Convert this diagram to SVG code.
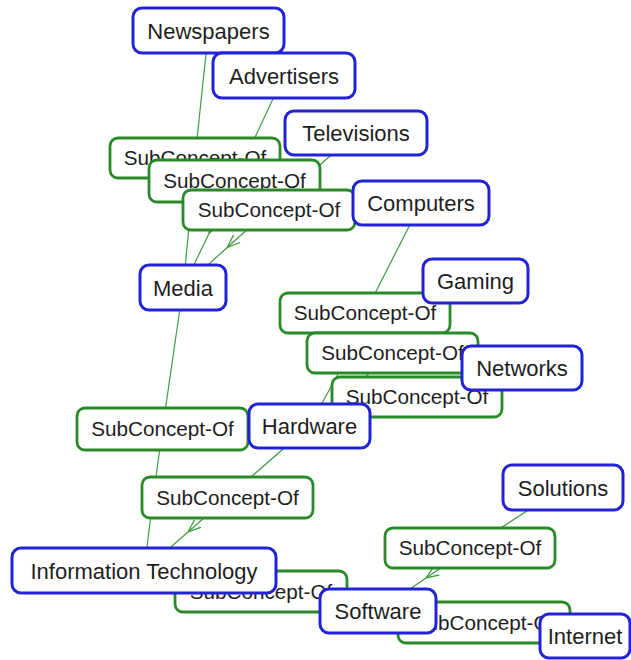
<svg xmlns="http://www.w3.org/2000/svg" width="631" height="660" viewBox="0 0 631 660">
<style>
.c{fill:none;stroke:#3f9c3f;stroke-width:1.2}
.g rect{fill:#fff;stroke:#2a8a2a;stroke-width:2.8}
.b rect{fill:#fff;stroke:#2323d6;stroke-width:3}
.g text{font-family:"Liberation Sans",Arial,sans-serif;font-size:20.7px;fill:#1e1e1e;text-anchor:middle}
.b text{font-family:"Liberation Sans",Arial,sans-serif;font-size:22px;fill:#1e1e1e;text-anchor:middle}
</style>
<defs>
<marker id="arr" viewBox="0 0 13 12" refX="13" refY="6" markerWidth="13" markerHeight="12" orient="auto" markerUnits="userSpaceOnUse">
<path d="M0,1 L13,6 L0,11" fill="none" stroke="#3f9c3f" stroke-width="1.3"/>
</marker>
</defs>
<rect width="631" height="660" fill="#fff"/>
<g id="connectors">
<polyline class="c" points="208.5,30.5 195,158"/>
<polyline class="c" points="284,75.5 234.5,181"/>
<polyline class="c" points="356,133 269,210"/>
<polyline class="c" points="195,158 189.6,221.5 183,287.5" marker-mid="url(#arr)"/>
<polyline class="c" points="234.5,181 209,233.5 183,287.5" marker-mid="url(#arr)"/>
<polyline class="c" points="269,210 227.2,247.5 183,287.5" marker-mid="url(#arr)"/>
<polyline class="c" points="421,203 365,313"/>
<polyline class="c" points="475.5,281 392.5,353"/>
<polyline class="c" points="522,368 417,397"/>
<polyline class="c" points="365,313 341,368.5 309.5,426" marker-mid="url(#arr)"/>
<polyline class="c" points="392.5,353 352,388.5 309.5,426" marker-mid="url(#arr)"/>
<polyline class="c" points="417,397 309.5,426"/>
<polyline class="c" points="183,287.5 162.5,429"/>
<polyline class="c" points="162.5,429 153,499 144,570.5" marker-mid="url(#arr)"/>
<polyline class="c" points="309.5,426 227.5,497.5"/>
<polyline class="c" points="227.5,497.5 188,532 144,570.5" marker-mid="url(#arr)"/>
<polyline class="c" points="378,611 261,591.5"/>
<polyline class="c" points="261,591.5 144,570.5"/>
<polyline class="c" points="563,487.5 470,548"/>
<polyline class="c" points="470,548 426,578 378,611" marker-mid="url(#arr)"/>
<polyline class="c" points="585,636 484,622.5"/>
<polyline class="c" points="484,622.5 378,611"/>
</g>
<g id="rel1" class="g"><rect x="110" y="138" width="170" height="40" rx="8"/><text x="195" y="165">SubConcept-Of</text></g>
<g id="rel2" class="g"><rect x="149" y="160" width="171" height="42" rx="8"/><text x="234.5" y="188">SubConcept-Of</text></g>
<g id="rel3" class="g"><rect x="183" y="190" width="172" height="40" rx="8"/><text x="269" y="217">SubConcept-Of</text></g>
<g id="rel4" class="g"><rect x="280" y="293" width="170" height="40" rx="8"/><text x="365" y="320">SubConcept-Of</text></g>
<g id="rel5" class="g"><rect x="307" y="333" width="171" height="40" rx="8"/><text x="392.5" y="360">SubConcept-Of</text></g>
<g id="rel6" class="g"><rect x="332" y="377" width="170" height="40" rx="8"/><text x="417" y="404">SubConcept-Of</text></g>
<g id="rel7" class="g"><rect x="77" y="408" width="171" height="42" rx="8"/><text x="162.5" y="436">SubConcept-Of</text></g>
<g id="rel8" class="g"><rect x="142" y="477" width="171" height="41" rx="8"/><text x="227.5" y="504.5">SubConcept-Of</text></g>
<g id="rel9" class="g"><rect x="175" y="571" width="172" height="41" rx="8"/><text x="261" y="598.5">SubConcept-Of</text></g>
<g id="rel10" class="g"><rect x="385" y="528" width="170" height="40" rx="8"/><text x="470" y="555">SubConcept-Of</text></g>
<g id="rel11" class="g"><rect x="398" y="602" width="172" height="41" rx="8"/><text x="484" y="629.5">SubConcept-Of</text></g>
<g id="newspapers" class="b"><rect x="133" y="8" width="151" height="45" rx="9"/><text x="208.5" y="38.5">Newspapers</text></g>
<g id="advertisers" class="b"><rect x="213" y="53" width="142" height="45" rx="9"/><text x="284" y="83.5">Advertisers</text></g>
<g id="televisions" class="b"><rect x="285" y="111" width="142" height="44" rx="9"/><text x="356" y="141">Televisions</text></g>
<g id="computers" class="b"><rect x="353" y="181" width="136" height="44" rx="9"/><text x="421" y="211">Computers</text></g>
<g id="media" class="b"><rect x="140" y="265" width="86" height="45" rx="9"/><text x="183" y="295.5">Media</text></g>
<g id="gaming" class="b"><rect x="423" y="259" width="105" height="44" rx="9"/><text x="475.5" y="289">Gaming</text></g>
<g id="networks" class="b"><rect x="462" y="346" width="120" height="44" rx="9"/><text x="522" y="376">Networks</text></g>
<g id="hardware" class="b"><rect x="249" y="404" width="121" height="44" rx="9"/><text x="309.5" y="434">Hardware</text></g>
<g id="it" class="b"><rect x="12" y="548" width="264" height="45" rx="9"/><text x="144" y="578.5">Information Technology</text></g>
<g id="solutions" class="b"><rect x="503" y="465" width="120" height="45" rx="9"/><text x="563" y="495.5">Solutions</text></g>
<g id="software" class="b"><rect x="320" y="589" width="116" height="44" rx="9"/><text x="378" y="619">Software</text></g>
<g id="internet" class="b"><rect x="540" y="614" width="90" height="44" rx="9"/><text x="585" y="644">Internet</text></g>
</svg>
